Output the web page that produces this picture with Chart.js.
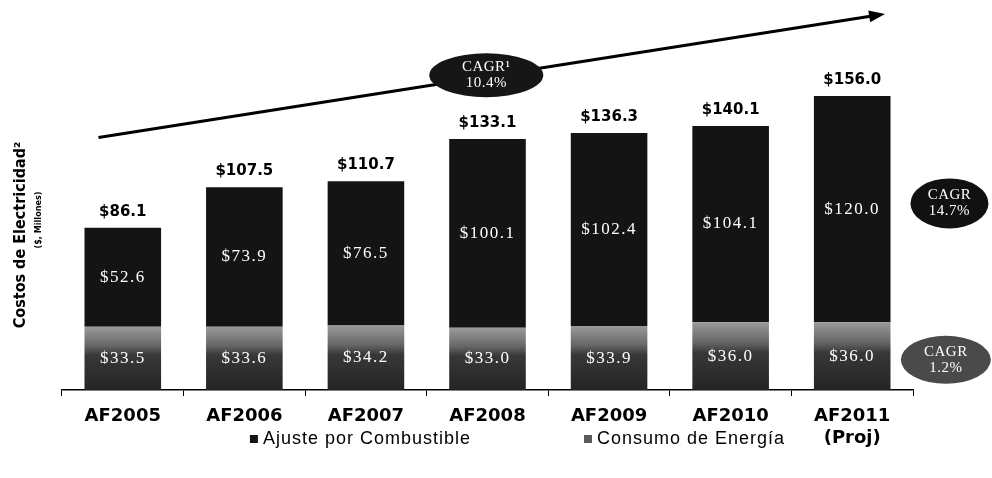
<!DOCTYPE html>
<html>
<head>
<meta charset="utf-8">
<script src="https://cdn.jsdelivr.net/npm/chart.js@4.4.1/dist/chart.umd.min.js"></script>
<style>
  html, body { margin: 0; padding: 0; background: #fff; }
  #wrap { width: 992px; height: 478px; position: relative; }
</style>
</head>
<body>
<div id="wrap"><canvas id="grafico"></canvas></div>
<script>
// datos (millones de $)
const categorias = ["AF2005", "AF2006", "AF2007", "AF2008", "AF2009", "AF2010", ["AF2011", "(Proj)"]];
const consumoEnergia = [33.5, 33.6, 34.2, 33.0, 33.9, 36.0, 36.0];
const ajusteCombustible = [52.6, 73.9, 76.5, 100.1, 102.4, 104.1, 120.0];
const totales = [86.1, 107.5, 110.7, 133.1, 136.3, 140.1, 156.0];
const seriesNombres = ["Consumo de Energía", "Ajuste por Combustible"];

// notas CAGR (en unidades de los ejes: indice de categoria, valor)
const flechaCAGR = { desde: [-0.2, 134], hasta: [6.27, 199.5] };
const notasCAGR = [
    { lineas: ["CAGR¹", "10.4%"], x: 2.99, y: 167, rx: 57, ry: 22, color: "#161616" },
    { lineas: ["CAGR", "14.7%"], x: 6.8, y: 99, rx: 39, ry: 25, color: "#111111" },
    { lineas: ["CAGR", "1.2%"], x: 6.77, y: 16, rx: 45, ry: 24, color: "#4a4a4a" }
];

const sans = "'Liberation Sans', Arial, sans-serif";
const sansAncha = "'DejaVu Sans', Verdana, sans-serif";
const serif = "'Liberation Serif', 'Times New Roman', serif";

function colorConsumo(context) {
    const chart = context.chart;
    const y = chart.scales && chart.scales.y;
    if (!y || context.parsed === undefined || context.type !== "data") return "#3a3a3a";
    const top = y.getPixelForValue(context.parsed.y);
    const base = y.getPixelForValue(0);
    if (!isFinite(top) || !isFinite(base) || base - top < 1) return "#3a3a3a";
    const g = chart.ctx.createLinearGradient(0, top, 0, base);
    g.addColorStop(0, "#9a9a9a");
    g.addColorStop(0.3, "#666666");
    g.addColorStop(0.45, "#383838");
    g.addColorStop(1, "#242424");
    return g;
}

const etiquetasPlugin = {
    id: "etiquetas",
    afterDatasetsDraw(chart) {
        const ctx = chart.ctx;
        const x = chart.scales.x, y = chart.scales.y;
        ctx.save();
        ctx.textAlign = "center";
        ctx.textBaseline = "middle";
        // valores dentro de las barras
        ctx.letterSpacing = "1.5px";
        chart.data.datasets.forEach((ds, i) => {
            const meta = chart.getDatasetMeta(i);
            meta.data.forEach((bar, j) => {
                ctx.fillStyle = "#ffffff";
                ctx.font = "17px " + serif;
                ctx.fillText("$" + ds.data[j].toFixed(1), bar.x, (bar.y + bar.base) / 2);
            });
        });
        ctx.letterSpacing = "0px";
        // totales sobre las barras
        const metaTop = chart.getDatasetMeta(chart.data.datasets.length - 1);
        metaTop.data.forEach((bar, j) => {
            ctx.fillStyle = "#000";
            ctx.font = "bold 15px " + sansAncha;
            ctx.fillText("$" + totales[j].toFixed(1), bar.x, bar.y - 16);
        });

        // flecha de tendencia
        const x0 = x.getPixelForValue(flechaCAGR.desde[0]), y0 = y.getPixelForValue(flechaCAGR.desde[1]);
        const x1 = x.getPixelForValue(flechaCAGR.hasta[0]), y1 = y.getPixelForValue(flechaCAGR.hasta[1]);
        const ang = Math.atan2(y1 - y0, x1 - x0);
        ctx.strokeStyle = "#000";
        ctx.lineWidth = 3;
        ctx.beginPath();
        ctx.moveTo(x0, y0);
        ctx.lineTo(x1 - 10 * Math.cos(ang), y1 - 10 * Math.sin(ang));
        ctx.stroke();
        ctx.fillStyle = "#000";
        ctx.beginPath();
        ctx.moveTo(x1, y1);
        ctx.lineTo(x1 - 16 * Math.cos(ang) + 6 * Math.sin(ang), y1 - 16 * Math.sin(ang) - 6 * Math.cos(ang));
        ctx.lineTo(x1 - 16 * Math.cos(ang) - 6 * Math.sin(ang), y1 - 16 * Math.sin(ang) + 6 * Math.cos(ang));
        ctx.closePath();
        ctx.fill();

        // elipses CAGR
        ctx.letterSpacing = "0.5px";
        notasCAGR.forEach(n => {
            const cx = x.getPixelForValue(n.x), cy = y.getPixelForValue(n.y);
            ctx.fillStyle = n.color;
            ctx.beginPath();
            ctx.ellipse(cx, cy, n.rx, n.ry, 0, 0, Math.PI * 2);
            ctx.fill();
            ctx.fillStyle = "#fff";
            ctx.font = "15px " + serif;
            ctx.fillText(n.lineas[0], cx, cy - 8);
            ctx.fillText(n.lineas[1], cx, cy + 8);
        });
        ctx.letterSpacing = "0px";

        // titulo del eje y
        const ca = chart.chartArea;
        ctx.fillStyle = "#000";
        ctx.save();
        ctx.translate(ca.left - 41, ca.bottom - 155);
        ctx.rotate(-Math.PI / 2);
        ctx.font = "bold 16px 'DejaVu Sans Condensed', " + sans;
        ctx.fillText("Costos de Electricidad²", 0, 0);
        ctx.restore();
        ctx.save();
        ctx.translate(ca.left - 23, ca.bottom - 170);
        ctx.rotate(-Math.PI / 2);
        ctx.font = "bold 9px 'DejaVu Sans Condensed', " + sans;
        ctx.fillText("($, Millones)", 0, 0);
        ctx.restore();

        // leyenda
        const items = [
            { texto: seriesNombres[1], color: "#141414" },
            { texto: seriesNombres[0], color: "#5a5a5a" }
        ];
        ctx.font = "18px " + sans;
        ctx.letterSpacing = "1px";
        ctx.textAlign = "left";
        const gap = 113;
        let total = 0;
        items.forEach((it, k) => { total += 13 + ctx.measureText(it.texto).width + (k ? 0 : gap); });
        let lx = (ca.left + ca.right) / 2 + 30 - total / 2;
        const ly = ca.bottom + 49;
        items.forEach(it => {
            ctx.fillStyle = it.color;
            ctx.fillRect(lx, ly - 4, 8, 8);
            ctx.fillStyle = "#000";
            ctx.fillText(it.texto, lx + 13, ly);
            lx += 13 + ctx.measureText(it.texto).width + gap;
        });
        ctx.restore();
    }
};

new Chart(document.getElementById("grafico"), {
    type: "bar",
    data: {
        labels: categorias,
        datasets: [
            {
                label: seriesNombres[0],
                data: consumoEnergia,
                backgroundColor: colorConsumo,
                barPercentage: 0.63,
                categoryPercentage: 1.0
            },
            {
                label: seriesNombres[1],
                data: ajusteCombustible,
                backgroundColor: "#141414",
                barPercentage: 0.63,
                categoryPercentage: 1.0
            }
        ]
    },
    options: {
        responsive: true,
        maintainAspectRatio: false,
        animation: false,
        layout: { padding: { left: 62, right: 79, top: 13, bottom: 0 } },
        plugins: {
            legend: { display: false },
            tooltip: { enabled: false }
        },
        scales: {
            x: {
                stacked: true,
                afterFit: s => { s.height = 88; },
                grid: {
                    display: true,
                    drawOnChartArea: false,
                    offset: true,
                    tickLength: 6,
                    color: "#000",
                    lineWidth: 1
                },
                border: { display: true, color: "#000", width: 1.5 },
                ticks: {
                    color: "#000",
                    padding: 10,
                    maxRotation: 0,
                    font: { family: sansAncha, size: 18, weight: "bold", lineHeight: 1.2 }
                }
            },
            y: {
                stacked: true,
                display: false,
                min: 0,
                max: 200
            }
        }
    },
    plugins: [etiquetasPlugin]
});
</script>
</body>
</html>
